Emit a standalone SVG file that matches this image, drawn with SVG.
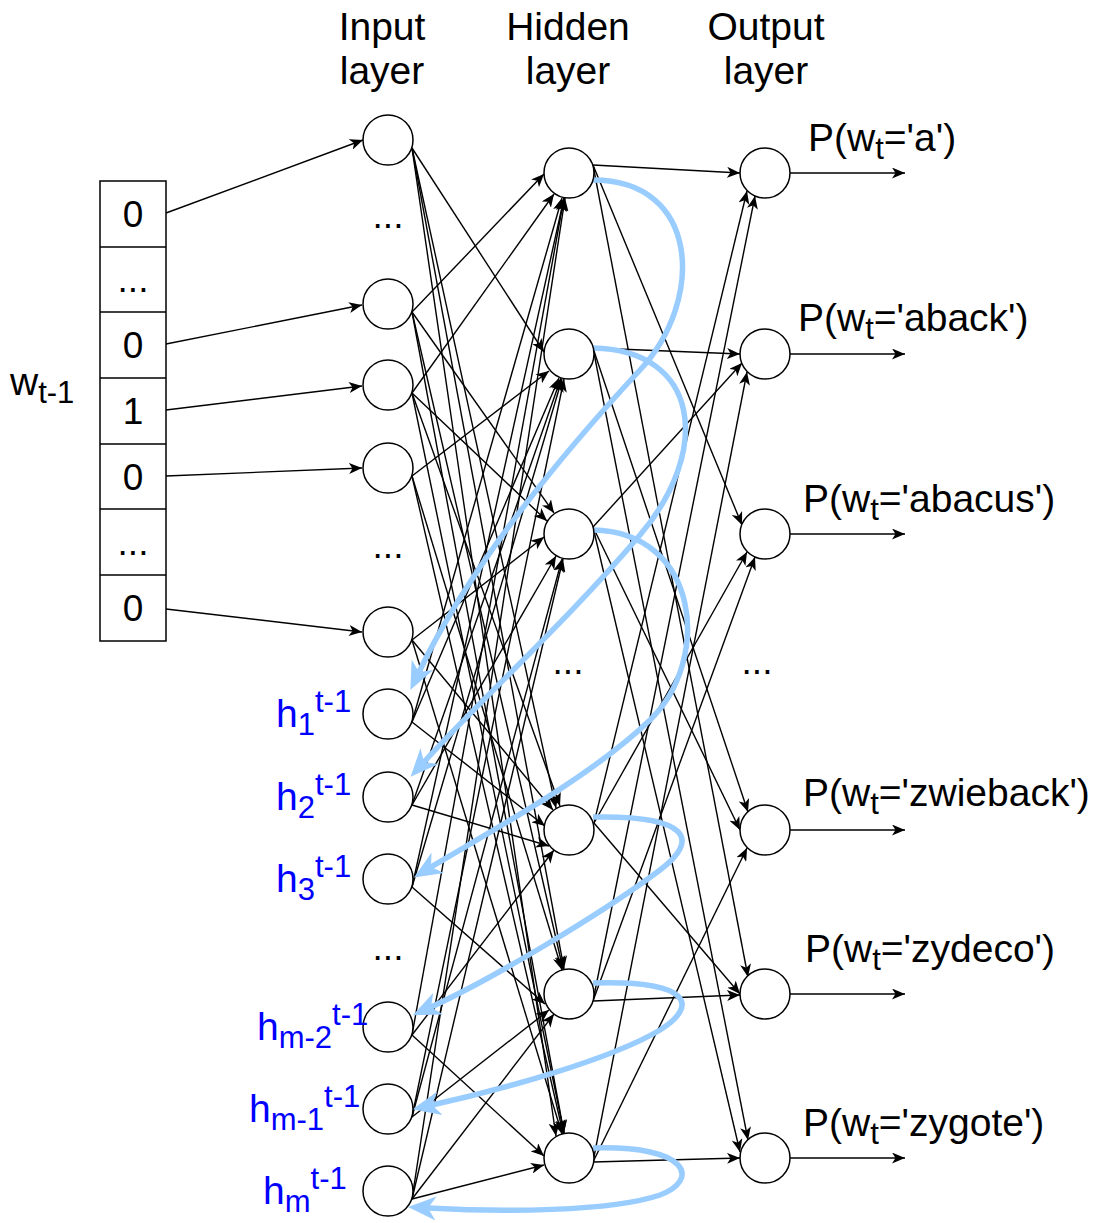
<svg xmlns="http://www.w3.org/2000/svg" width="1097" height="1223" viewBox="0 0 1097 1223">
  <defs>
    <marker id="ah" markerUnits="userSpaceOnUse" viewBox="0 0 13 11" markerWidth="13" markerHeight="11" refX="13" refY="5.5" orient="auto">
      <path d="M0,0 L13,5.5 L0,11 L3.5,5.5 Z" fill="#000"/>
    </marker>
    <marker id="bh" markerUnits="userSpaceOnUse" viewBox="0 0 28 24" markerWidth="28" markerHeight="24" refX="8" refY="12" orient="auto">
      <path d="M0,0 L28,12 L0,24 L8,12 Z" fill="#99CCFF"/>
    </marker>
    <style>
      .nd { fill: #fff; stroke: #000; stroke-width: 1.5; }
      .cell { fill: #fff; stroke: #000; stroke-width: 1.5; }
      .ln { fill: none; stroke: #000; stroke-width: 1.4; marker-end: url(#ah); }
      .rc { fill: none; stroke: #99CCFF; stroke-width: 5.5; marker-end: url(#bh); }
      .t { font-family: "Liberation Sans", Arial, Helvetica, sans-serif; font-size: 39px; fill: #000; }
      .c { text-anchor: middle; }
      .d { font-size: 37px; }
      .hl { fill: #0000FF; }
      .s { font-size: 31px; }
    </style>
  </defs>

  <!-- column headers -->
  <g id="headers" class="t c">
    <text x="382" y="40">Input</text>
    <text x="382" y="84">layer</text>
    <text x="568" y="40">Hidden</text>
    <text x="568" y="84">layer</text>
    <text x="766" y="40">Output</text>
    <text x="766" y="84">layer</text>
  </g>

  <!-- one-hot vector w(t-1) -->
  <g id="onehot">
    <text class="t" x="10" y="395">w<tspan class="s" dy="8">t-1</tspan></text>
    <rect class="cell" x="100" y="181" width="66" height="460"/>
    <path d="M100,247 H166 M100,312 H166 M100,378 H166 M100,444 H166 M100,509 H166 M100,575 H166" stroke="#000" stroke-width="1.5"/>
    <g class="t c d">
      <text x="133" y="227">0</text>
      <text x="133" y="292">...</text>
      <text x="133" y="358">0</text>
      <text x="133" y="424">1</text>
      <text x="133" y="490">0</text>
      <text x="133" y="555">...</text>
      <text x="133" y="621">0</text>
    </g>
  </g>

  <!-- connectors -->
  <g id="connectors">
    <!-- vector to input layer -->
    <line class="ln" x1="166" y1="213" x2="363" y2="140"/>
    <line class="ln" x1="166" y1="344" x2="362" y2="305"/>
    <line class="ln" x1="166" y1="410" x2="362" y2="386"/>
    <line class="ln" x1="166" y1="476" x2="362" y2="468"/>
    <line class="ln" x1="166" y1="609" x2="362" y2="632"/>

    <!-- input layer to hidden layer -->
    <line class="ln" x1="412" y1="148" x2="544" y2="352"/>
    <line class="ln" x1="412" y1="148" x2="556" y2="808"/>
    <line class="ln" x1="412" y1="148" x2="564" y2="969"/>
    <line class="ln" x1="412" y1="148" x2="556" y2="1136"/>

    <line class="ln" x1="412" y1="312" x2="544" y2="174"/>
    <line class="ln" x1="412" y1="312" x2="554" y2="513"/>
    <line class="ln" x1="412" y1="312" x2="563" y2="969"/>
    <line class="ln" x1="412" y1="312" x2="564" y2="1133"/>

    <line class="ln" x1="412" y1="393" x2="554" y2="194"/>
    <line class="ln" x1="412" y1="393" x2="547" y2="521"/>
    <line class="ln" x1="412" y1="393" x2="560" y2="806"/>
    <line class="ln" x1="412" y1="393" x2="564" y2="1133"/>

    <line class="ln" x1="412" y1="476" x2="549" y2="371"/>
    <line class="ln" x1="412" y1="476" x2="562" y2="970"/>
    <line class="ln" x1="412" y1="476" x2="563" y2="1133"/>

    <line class="ln" x1="412" y1="640" x2="544" y2="537"/>
    <line class="ln" x1="412" y1="640" x2="553" y2="810"/>
    <line class="ln" x1="412" y1="640" x2="562" y2="1134"/>

    <line class="ln" x1="412" y1="722" x2="545" y2="826"/>
    <line class="ln" x1="412" y1="722" x2="562" y2="198"/>
    <line class="ln" x1="412" y1="722" x2="559" y2="378"/>

    <line class="ln" x1="412" y1="805" x2="549" y2="846"/>
    <line class="ln" x1="412" y1="805" x2="561" y2="378"/>
    <line class="ln" x1="412" y1="805" x2="556" y2="556"/>

    <line class="ln" x1="412" y1="887" x2="545" y2="1004"/>
    <line class="ln" x1="412" y1="887" x2="564" y2="198"/>
    <line class="ln" x1="412" y1="887" x2="562" y2="379"/>

    <line class="ln" x1="412" y1="1035" x2="544" y2="1156"/>
    <line class="ln" x1="412" y1="1035" x2="554" y2="850"/>
    <line class="ln" x1="412" y1="1035" x2="564" y2="198"/>

    <line class="ln" x1="412" y1="1117" x2="549" y2="1010"/>
    <line class="ln" x1="412" y1="1117" x2="564" y2="379"/>
    <line class="ln" x1="412" y1="1117" x2="562" y2="559"/>

    <line class="ln" x1="412" y1="1199" x2="544" y2="1165"/>
    <line class="ln" x1="412" y1="1199" x2="554" y2="1014"/>
    <line class="ln" x1="412" y1="1199" x2="565" y2="198"/>
    <line class="ln" x1="412" y1="1199" x2="563" y2="559"/>

    <!-- hidden layer to output layer -->
    <line class="ln" x1="593" y1="165" x2="740" y2="173"/>
    <line class="ln" x1="593" y1="165" x2="742" y2="525"/>
    <line class="ln" x1="593" y1="165" x2="748" y2="977"/>

    <line class="ln" x1="593" y1="348" x2="740" y2="354"/>
    <line class="ln" x1="593" y1="348" x2="748" y2="812"/>
    <line class="ln" x1="593" y1="348" x2="748" y2="1140"/>

    <line class="ln" x1="593" y1="527" x2="742" y2="363"/>
    <line class="ln" x1="593" y1="527" x2="740" y2="830"/>
    <line class="ln" x1="593" y1="527" x2="740" y2="1152"/>

    <line class="ln" x1="594" y1="823" x2="747" y2="191"/>
    <line class="ln" x1="594" y1="823" x2="747" y2="552"/>
    <line class="ln" x1="594" y1="823" x2="740" y2="994"/>

    <line class="ln" x1="593" y1="1001" x2="755" y2="196"/>
    <line class="ln" x1="593" y1="1001" x2="755" y2="557"/>
    <line class="ln" x1="593" y1="1001" x2="740" y2="995"/>

    <line class="ln" x1="593" y1="1162" x2="747" y2="372"/>
    <line class="ln" x1="593" y1="1162" x2="747" y2="848"/>
    <line class="ln" x1="593" y1="1162" x2="740" y2="1158"/>

    <!-- output arrows -->
    <line class="ln" x1="790" y1="173" x2="905" y2="173"/>
    <line class="ln" x1="790" y1="354" x2="905" y2="354"/>
    <line class="ln" x1="790" y1="534" x2="905" y2="534"/>
    <line class="ln" x1="790" y1="830" x2="905" y2="830"/>
    <line class="ln" x1="790" y1="994" x2="905" y2="994"/>
    <line class="ln" x1="790" y1="1158" x2="905" y2="1158"/>

    <!-- recurrent feedback: hidden state back to context units -->
    <path class="rc" d="M593,180 C700,180 705,300 640,370 S475,555 419,672"/>
    <path class="rc" d="M593,348 C700,350 712,450 640,535 S480,700 424,762"/>
    <path class="rc" d="M593,530 C700,532 712,660 650,720 S475,840 431,867"/>
    <path class="rc" d="M593,817 C690,815 700,840 660,870 C600,915 490,980 431,1007"/>
    <path class="rc" d="M593,983 C690,980 700,1005 660,1030 C610,1060 500,1090 432,1105"/>
    <path class="rc" d="M593,1148 C690,1145 700,1180 660,1195 C610,1212 500,1212 428,1208"/>
  </g>

  <!-- input layer -->
  <g id="input-layer">
    <circle id="in1" class="nd" cx="388" cy="140" r="25"/>
    <circle id="in2" class="nd" cx="388" cy="304" r="25"/>
    <circle id="in3" class="nd" cx="388" cy="385" r="25"/>
    <circle id="in4" class="nd" cx="388" cy="468" r="25"/>
    <circle id="in5" class="nd" cx="388" cy="632" r="25"/>
    <circle id="ctx1" class="nd" cx="388" cy="714" r="25"/>
    <circle id="ctx2" class="nd" cx="388" cy="797" r="25"/>
    <circle id="ctx3" class="nd" cx="388" cy="879" r="25"/>
    <circle id="ctxm2" class="nd" cx="388" cy="1027" r="25"/>
    <circle id="ctxm1" class="nd" cx="388" cy="1109" r="25"/>
    <circle id="ctxm" class="nd" cx="388" cy="1191" r="25"/>
    <g class="t c d">
      <text x="388" y="228">...</text>
      <text x="388" y="558">...</text>
      <text x="388" y="960">...</text>
    </g>
    <g class="t hl">
      <text x="276" y="727">h<tspan class="s" dy="8">1</tspan><tspan class="s" dy="-23">t-1</tspan></text>
      <text x="276" y="810">h<tspan class="s" dy="8">2</tspan><tspan class="s" dy="-23">t-1</tspan></text>
      <text x="276" y="892">h<tspan class="s" dy="8">3</tspan><tspan class="s" dy="-23">t-1</tspan></text>
      <text x="257" y="1040">h<tspan class="s" dy="8">m-2</tspan><tspan class="s" dy="-23">t-1</tspan></text>
      <text x="249" y="1122">h<tspan class="s" dy="8">m-1</tspan><tspan class="s" dy="-23">t-1</tspan></text>
      <text x="263" y="1204">h<tspan class="s" dy="8">m</tspan><tspan class="s" dy="-23">t-1</tspan></text>
    </g>
  </g>

  <!-- hidden layer -->
  <g id="hidden-layer">
    <circle id="hid1" class="nd" cx="569" cy="173" r="25"/>
    <circle id="hid2" class="nd" cx="569" cy="354" r="25"/>
    <circle id="hid3" class="nd" cx="569" cy="534" r="25"/>
    <circle id="hid4" class="nd" cx="569" cy="830" r="25"/>
    <circle id="hid5" class="nd" cx="569" cy="994" r="25"/>
    <circle id="hid6" class="nd" cx="569" cy="1158" r="25"/>
    <text class="t c d" x="568" y="674">...</text>
  </g>

  <!-- output layer -->
  <g id="output-layer">
    <circle id="out1" class="nd" cx="765" cy="173" r="25"/>
    <circle id="out2" class="nd" cx="765" cy="354" r="25"/>
    <circle id="out3" class="nd" cx="765" cy="534" r="25"/>
    <circle id="out4" class="nd" cx="765" cy="830" r="25"/>
    <circle id="out5" class="nd" cx="765" cy="994" r="25"/>
    <circle id="out6" class="nd" cx="765" cy="1158" r="25"/>
    <text class="t c d" x="757" y="674">...</text>
    <g class="t">
      <text x="808" y="151">P(w<tspan class="s" dy="8">t</tspan><tspan dy="-8">='a')</tspan></text>
      <text x="798" y="331">P(w<tspan class="s" dy="8">t</tspan><tspan dy="-8">='aback')</tspan></text>
      <text x="803" y="512">P(w<tspan class="s" dy="8">t</tspan><tspan dy="-8">='abacus')</tspan></text>
      <text x="803" y="806">P(w<tspan class="s" dy="8">t</tspan><tspan dy="-8">='zwieback')</tspan></text>
      <text x="805" y="962">P(w<tspan class="s" dy="8">t</tspan><tspan dy="-8">='zydeco')</tspan></text>
      <text x="803" y="1136">P(w<tspan class="s" dy="8">t</tspan><tspan dy="-8">='zygote')</tspan></text>
    </g>
  </g>
</svg>
